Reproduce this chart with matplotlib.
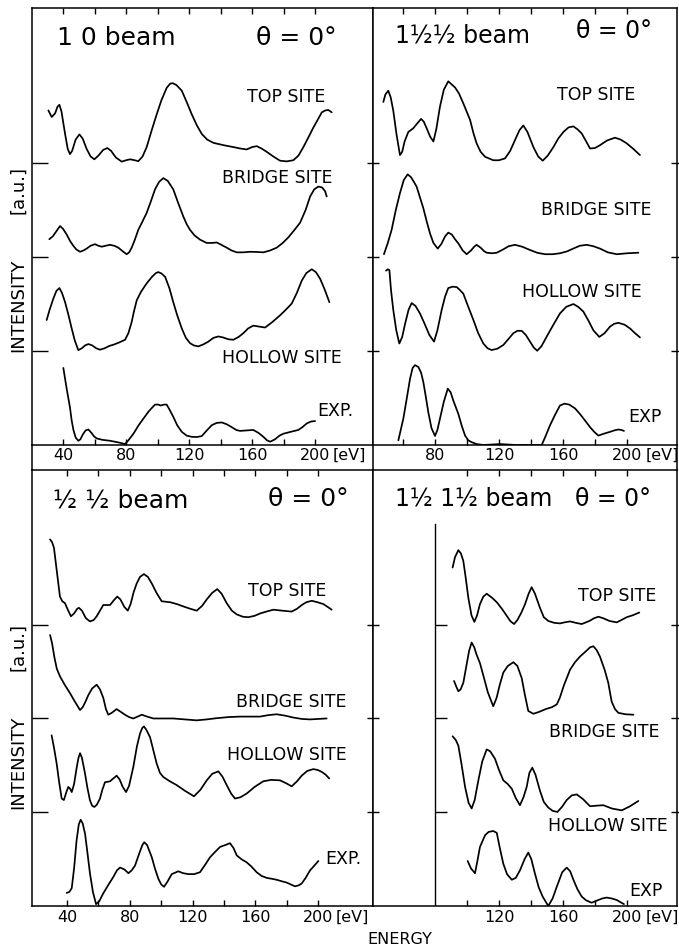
import numpy as np
import matplotlib
matplotlib.use('Agg')
import matplotlib.pyplot as plt
from matplotlib import transforms

# ---- digitised I(V) curves: (energy eV, intensity a.u. above the curve's baseline) ----

# 1 0 beam
tl_top = [(30.7, .56), (32.8, .49), (35.0, .53), (36.5, .60), (37.7, .62), (39.0, .55), (41.3, .31),
          (43.0, .15), (44.4, .095), (45.8, .13), (48.0, .25), (50.4, .305), (52.5, .26), (55.0, .15),
          (57.5, .07), (59.9, .04), (62.5, .08), (65.5, .14), (68.1, .16), (70.5, .13), (73.5, .06),
          (77.3, .015), (80.0, .03), (82.6, .04), (85.5, .03), (87.8, .02), (90.5, .07), (93.1, .17),
          (96.5, .36), (99.5, .52), (102.5, .67), (105.8, .80), (108.0, .845), (109.7, .85),
          (112.0, .83), (115.4, .77), (118.5, .65), (121.7, .52), (125.0, .40), (128.1, .31),
          (131.5, .25), (135.5, .215), (142.0, .19), (148.2, .17), (152.5, .155), (156.6, .145),
          (160.0, .17), (163.0, .18), (166.0, .155), (169.3, .12), (173.5, .07), (177.8, .025),
          (182.0, .018), (186.2, .03), (189.5, .08), (192.6, .17), (196.0, .28), (199.0, .38),
          (202.0, .47), (204.3, .54), (206.5, .56), (208.5, .565), (210.6, .54)]
tl_bridge = [(31.3, .19), (33.5, .22), (36.0, .28), (38.1, .33), (40.0, .30), (42.3, .24), (44.5, .17),
             (46.5, .12), (48.5, .08), (50.8, .056), (53.0, .07), (55.0, .09), (57.5, .12), (60.3, .137),
             (62.5, .12), (64.6, .11), (67.0, .12), (69.8, .13), (72.5, .12), (75.1, .10), (78.0, .06),
             (80.4, .03), (82.0, .05), (83.6, .10), (85.5, .18), (87.8, .29), (90.5, .38), (93.1, .47),
             (95.5, .58), (98.4, .72), (101.0, .80), (103.7, .84), (106.5, .81), (110.0, .72),
             (113.0, .58), (116.4, .43), (118.5, .35), (120.6, .29), (123.5, .23), (127.0, .185),
             (131.2, .15), (134.5, .15), (137.6, .155), (140.5, .13), (143.9, .10), (147.0, .07),
             (150.3, .05), (154.5, .05), (158.7, .056), (163.0, .054), (167.2, .05), (171.5, .07),
             (175.7, .10), (179.5, .15), (183.1, .21), (187.0, .29), (190.5, .365), (194.0, .50),
             (196.9, .645), (199.5, .72), (202.1, .75), (204.5, .74), (206.4, .70), (207.4, .645)]
tl_hollow = [(29.6, .33), (31.5, .44), (33.9, .56), (35.8, .64), (37.7, .67), (39.3, .62), (41.3, .52),
             (43.5, .38), (45.5, .24), (47.5, .11), (49.7, .01), (52.0, .03), (54.0, .06), (56.1, .074),
             (58.5, .06), (61.0, .03), (63.5, .014), (66.5, .03), (69.5, .055), (72.0, .067),
             (75.5, .09), (79.4, .12), (81.5, .19), (83.6, .31), (85.0, .42), (86.8, .54), (89.5, .63),
             (93.1, .72), (96.5, .79), (99.0, .83), (100.5, .84), (102.5, .825), (104.8, .79),
             (107.5, .67), (110.0, .52), (112.5, .38), (115.4, .24), (118.0, .14), (120.6, .084),
             (123.0, .06), (125.9, .049), (129.0, .07), (132.3, .10), (135.5, .14), (138.6, .155),
             (141.5, .145), (145.0, .125), (148.2, .12), (151.5, .15), (154.5, .19), (157.5, .24),
             (160.8, .27), (164.5, .26), (168.3, .25), (173.0, .31), (177.8, .38), (181.5, .44),
             (185.2, .505), (188.5, .62), (191.6, .75), (194.5, .83), (197.9, .87), (200.5, .84),
             (203.2, .77), (206.0, .66), (209.1, .52)]
tl_exp = [(40.2, .82), (42.3, .60), (44.4, .40), (45.5, .26), (46.6, .16), (48.0, .08), (49.7, .045),
          (51.0, .06), (52.5, .11), (54.3, .155), (56.1, .165), (58.0, .13), (59.8, .09), (61.4, .07),
          (65.0, .055), (69.8, .045), (74.5, .03), (79.4, .01), (81.5, .05), (84.7, .12), (88.0, .21),
          (91.0, .28), (94.5, .36), (98.4, .43), (100.5, .43), (102.0, .42), (104.0, .43),
          (105.8, .43), (107.5, .38), (110.0, .30), (112.5, .21), (115.4, .14), (118.5, .10),
          (121.7, .087), (125.0, .085), (128.1, .095), (131.0, .15), (134.4, .21), (137.5, .235),
          (140.8, .24), (144.0, .22), (147.1, .19), (150.0, .16), (152.4, .15), (156.5, .155),
          (160.8, .16), (164.0, .13), (167.2, .087), (169.5, .05), (171.5, .035), (174.5, .06),
          (177.5, .10), (179.9, .12), (184.5, .14), (189.4, .16), (192.0, .19), (194.8, .23),
          (197.5, .25), (200.0, .255)]

# 1 1/2 1/2 beam
tr_top = [(47.7, .65), (49.0, .73), (50.8, .77), (52.3, .70), (53.9, .56), (56.0, .30), (58.1, .085),
          (59.5, .12), (61.0, .23), (63.3, .33), (66.4, .37), (68.8, .42), (71.3, .47), (73.0, .44),
          (74.8, .37), (77.0, .28), (79.0, .23), (80.8, .36), (83.1, .60), (85.5, .78), (88.3, .87),
          (90.2, .84), (92.5, .805), (95.0, .74), (97.7, .635), (101.9, .46), (104.0, .32),
          (106.0, .21), (108.5, .12), (111.3, .067), (116.4, .03), (120.0, .03), (123.8, .05),
          (127.0, .13), (130.0, .245), (132.8, .35), (135.2, .40), (137.8, .33), (141.5, .17),
          (144.5, .07), (147.3, .025), (150.5, .08), (154.0, .17), (157.0, .26), (160.2, .33),
          (163.5, .38), (166.5, .39), (169.0, .36), (171.7, .315), (174.5, .23), (176.9, .155),
          (180.0, .16), (183.1, .19), (187.5, .24), (192.5, .27), (196.0, .25), (199.8, .21),
          (204.0, .15), (208.1, .085)]
tr_bridge = [(48.1, .03), (50.5, .15), (52.9, .29), (55.5, .50), (58.1, .68), (60.5, .82), (62.9, .88),
             (65.0, .85), (66.8, .80), (68.5, .75), (70.5, .64), (72.7, .52), (74.8, .38), (76.9, .25),
             (79.0, .15), (81.7, .09), (84.0, .14), (86.3, .22), (88.3, .26), (90.5, .24), (92.5, .19),
             (94.6, .145), (97.3, .07), (99.8, .03), (102.5, .07), (104.5, .11), (106.0, .13),
             (108.5, .10), (110.5, .065), (112.3, .046), (115.5, .04), (118.6, .046), (122.5, .08),
             (126.0, .115), (130.0, .13), (134.5, .11), (139.4, .075), (144.0, .045), (148.8, .03),
             (153.5, .03), (158.1, .04), (162.5, .06), (166.4, .09), (170.5, .12), (174.8, .13),
             (179.0, .115), (183.1, .09), (188.0, .05), (193.6, .03), (200.0, .04), (207.1, .046)]
tr_hollow = [(49.4, .855), (50.5, .87), (51.5, .86), (52.5, .65), (53.9, .44), (55.8, .22), (57.7, .08),
             (59.5, .15), (61.3, .29), (63.5, .44), (65.4, .51), (67.8, .48), (70.6, .40), (73.5, .29),
             (76.5, .17), (79.4, .10), (81.5, .22), (84.2, .44), (86.3, .58), (88.3, .67), (91.0, .685),
             (93.6, .68), (95.5, .65), (97.7, .61), (100.8, .47), (104.0, .33), (107.0, .19),
             (110.2, .08), (112.8, .03), (115.4, .01), (119.0, .025), (122.7, .064), (126.0, .13),
             (129.0, .19), (131.5, .215), (134.2, .215), (136.8, .17), (139.4, .10), (141.8, .035),
             (143.9, .003), (146.5, .05), (149.7, .15), (154.0, .28), (158.1, .40), (162.0, .47),
             (166.5, .50), (169.5, .47), (172.7, .42), (176.0, .32), (179.0, .22), (182.7, .15),
             (186.0, .19), (189.4, .26), (192.0, .29), (194.6, .30), (198.5, .28), (201.9, .24),
             (205.0, .19), (208.1, .145)]
tr_exp = [(57.1, .05), (60.2, .28), (62.3, .49), (64.4, .705), (66.0, .82), (67.5, .85), (69.6, .83),
          (71.3, .77), (72.7, .67), (74.2, .52), (75.8, .35), (77.8, .18), (80.0, .096), (81.5, .16),
          (83.1, .28), (85.5, .46), (88.0, .60), (89.8, .56), (91.4, .475), (94.6, .33), (96.8, .20),
          (98.8, .10), (100.8, .05), (102.9, .03), (106.0, .01), (110.2, .0), (120.6, .01),
          (131.0, .0), (140.0, .0), (146.7, .0), (149.0, .09), (151.9, .21), (155.0, .32),
          (158.1, .42), (161.0, .44), (163.9, .43), (167.5, .39), (170.6, .33), (173.8, .26),
          (176.9, .19), (179.5, .14), (182.1, .10), (185.5, .12), (189.4, .14), (192.0, .155),
          (194.6, .165), (196.5, .16), (198.1, .15)]

# 1/2 1/2 beam
bl_top = [(29.2, .91), (30.5, .88), (31.7, .82), (33.4, .585), (35.5, .30), (37.0, .25), (38.7, .23),
          (40.5, .16), (42.5, .09), (44.5, .12), (46.5, .17), (47.6, .18), (49.5, .15), (52.0, .07),
          (54.6, .035), (57.0, .05), (58.9, .09), (61.0, .15), (63.1, .21), (65.0, .21), (67.4, .21),
          (69.8, .26), (72.0, .30), (74.0, .27), (76.5, .19), (78.7, .15), (80.5, .22), (82.5, .35),
          (84.4, .44), (86.5, .51), (89.0, .54), (91.5, .51), (94.0, .44), (97.0, .34), (100.3, .25),
          (105.6, .24), (110.0, .22), (114.1, .195), (118.5, .17), (122.6, .15), (126.0, .20),
          (129.0, .27), (132.5, .34), (135.7, .38), (138.5, .33), (141.7, .23), (145.0, .15),
          (148.1, .11), (152.0, .085), (155.5, .08), (159.5, .095), (163.0, .12), (167.0, .14),
          (171.4, .16), (177.0, .15), (183.1, .14), (186.5, .17), (189.5, .21), (192.5, .24),
          (195.9, .255), (199.5, .24), (203.3, .22), (206.0, .19), (208.6, .16)]
bl_bridge = [(29.2, .89), (30.5, .80), (32.0, .65), (33.5, .53), (35.5, .45), (38.5, .36), (41.9, .27),
             (45.0, .18), (48.3, .09), (50.0, .12), (51.8, .18), (53.6, .25), (56.0, .32), (58.9, .36),
             (61.0, .31), (63.1, .22), (64.8, .10), (66.3, .04), (68.5, .06), (71.6, .10), (74.3, .07),
             (76.9, .04), (79.5, .015), (82.2, .0), (85.0, .02), (87.6, .04), (91.0, .02), (95.0, .0),
             (101.0, .0), (107.7, .0), (115.0, -.01), (122.6, -.02), (129.0, -.01), (135.3, .003),
             (143.0, .015), (150.2, .02), (157.0, .02), (162.9, .02), (168.0, .035), (173.5, .045),
             (179.0, .03), (184.1, .01), (189.5, -.005), (194.8, -.01), (200.0, -.005), (205.4, .0)]
bl_hollow = [(30.2, .82), (31.8, .68), (33.4, .52), (35.0, .32), (36.6, .146), (38.0, .13), (39.5, .21),
             (40.8, .27), (42.0, .25), (43.0, .215), (44.5, .30), (46.2, .48), (47.3, .58), (48.3, .63),
             (49.5, .58), (51.5, .41), (53.0, .26), (54.6, .128), (56.0, .07), (57.4, .056), (59.0, .08),
             (61.0, .146), (62.5, .24), (64.2, .32), (66.0, .325), (67.4, .33), (69.5, .36), (71.6, .39),
             (73.5, .35), (75.5, .27), (77.6, .215), (79.5, .28), (82.2, .48), (84.5, .70), (86.5, .84),
             (88.0, .90), (89.0, .915), (90.5, .88), (92.9, .80), (95.0, .66), (97.1, .52), (99.2, .42),
             (101.3, .376), (105.5, .33), (109.8, .29), (115.0, .23), (120.9, .17), (125.0, .24),
             (129.0, .34), (132.5, .41), (136.4, .436), (139.0, .38), (141.7, .29), (144.5, .20),
             (147.0, .146), (150.5, .16), (154.5, .20), (159.5, .27), (165.0, .33), (170.0, .345),
             (175.7, .34), (179.5, .31), (183.1, .276), (186.5, .33), (189.5, .39), (193.0, .44),
             (196.9, .46), (199.8, .45), (202.3, .43), (204.8, .40), (207.0, .36)]
bl_exp = [(39.8, .14), (41.5, .15), (43.0, .19), (44.5, .40), (46.1, .70), (47.5, .87), (48.7, .92),
          (50.0, .88), (51.5, .77), (53.0, .57), (54.6, .35), (56.5, .15), (58.5, .02), (60.5, .05),
          (63.1, .135), (66.5, .23), (69.5, .31), (71.8, .38), (73.8, .41), (76.5, .39), (79.1, .35),
          (81.2, .38), (83.3, .43), (86.0, .56), (88.0, .65), (89.2, .68), (91.0, .65), (94.0, .52),
          (96.0, .40), (98.2, .29), (100.0, .23), (101.8, .205), (104.0, .26), (106.7, .34),
          (110.9, .37), (114.0, .35), (117.3, .34), (121.0, .34), (124.7, .36), (128.0, .44),
          (131.1, .52), (134.5, .58), (137.5, .63), (140.8, .65), (143.8, .67), (146.0, .62),
          (148.1, .54), (151.0, .50), (154.5, .465), (157.5, .42), (160.8, .36), (164.0, .32),
          (167.2, .30), (170.5, .29), (173.5, .28), (176.5, .265), (179.9, .25), (182.5, .23),
          (185.2, .21), (187.5, .22), (189.5, .24), (192.0, .30), (194.8, .38), (197.5, .43),
          (200.1, .48)]

# 1 1/2 1 1/2 beam
br_top = [(91.0, .61), (92.5, .72), (94.6, .795), (96.2, .76), (97.7, .68), (99.2, .50), (100.8, .29),
          (102.8, .10), (104.6, .03), (106.3, .10), (108.1, .22), (110.2, .30), (112.3, .33),
          (115.5, .29), (118.6, .24), (121.8, .17), (124.8, .096), (127.0, .04), (129.4, .007),
          (131.5, .05), (134.0, .13), (136.3, .22), (138.5, .33), (140.4, .40), (142.5, .33),
          (145.6, .18), (148.0, .08), (150.8, .04), (154.5, .02), (158.1, .014), (161.0, .025),
          (164.4, .035), (168.0, .02), (171.7, .007), (176.5, .04), (179.5, .07), (182.1, .085),
          (185.0, .07), (189.0, .04), (193.6, .025), (196.5, .05), (199.8, .08), (203.5, .10),
          (207.7, .13)]
br_bridge = [(91.9, .40), (93.3, .34), (94.6, .29), (96.0, .31), (97.7, .38), (99.5, .55), (101.3, .72),
             (102.9, .81), (104.5, .76), (106.0, .68), (108.1, .59), (110.5, .44), (113.0, .28),
             (116.4, .13), (118.5, .22), (120.5, .36), (122.7, .49), (125.5, .56), (129.0, .60),
             (131.5, .56), (134.2, .43), (136.2, .25), (138.3, .08), (141.5, .05), (145.0, .07),
             (149.2, .10), (153.0, .12), (156.1, .15), (158.0, .22), (160.5, .35), (164.4, .52),
             (167.5, .60), (170.6, .66), (174.5, .72), (177.0, .76), (179.0, .77), (181.0, .73),
             (183.1, .66), (186.0, .52), (188.3, .38), (190.4, .18), (192.5, .10), (194.6, .06),
             (199.0, .045), (204.0, .04)]
br_hollow = [(91.0, .81), (93.0, .77), (94.6, .71), (96.5, .52), (98.8, .27), (101.0, .10), (102.9, .04),
             (104.8, .13), (107.1, .34), (109.5, .54), (112.3, .67), (114.5, .65), (117.5, .57),
             (120.0, .45), (122.7, .34), (125.5, .30), (128.0, .25), (130.5, .15), (133.1, .075),
             (135.3, .16), (137.3, .27), (139.0, .42), (140.8, .475), (142.8, .40), (145.6, .23),
             (148.0, .11), (150.8, .05), (153.5, .015), (156.5, .003), (159.5, .06), (162.3, .13),
             (165.5, .18), (168.6, .19), (172.5, .14), (176.9, .064), (181.0, .07), (185.2, .075),
             (190.5, .04), (196.7, .02), (201.5, .06), (207.1, .12)]
br_exp = [(100.4, .48), (102.5, .40), (105.0, .35), (106.5, .48), (108.1, .63), (111.3, .755),
          (113.5, .79), (116.4, .80), (118.6, .78), (120.5, .62), (122.7, .45), (125.0, .34),
          (128.0, .28), (130.5, .30), (133.1, .38), (136.0, .50), (138.3, .57), (140.2, .50),
          (142.4, .35), (144.8, .20), (147.3, .10), (150.8, .0), (153.5, .08), (156.1, .205),
          (159.5, .36), (162.3, .41), (164.5, .37), (166.5, .28), (169.0, .18), (171.7, .10),
          (174.5, .06), (177.9, .035), (180.0, .05), (182.1, .064), (184.5, .08), (187.3, .09),
          (190.5, .08), (193.6, .064), (196.0, .04), (198.1, .02)]

offsets = [3, 2, 1, 0]          # baselines: top, bridge, hollow, exp
site_names = ['TOP SITE', 'BRIDGE SITE', 'HOLLOW SITE']

# label anchors (energy, intensity): title, theta (baseline), top, bridge, hollow, exp (centre)
tl_labels = [(36, 4.255), (188, 4.255), (182, 3.70), (176, 2.84), (179, 0.93), (213, 0.36)]
tr_labels = [(55, 4.28), (192, 4.33), (181, 3.72), (181, 2.50), (172, 1.63), (211, 0.30)]
bl_labels = [(31, 4.25), (194, 4.27), (180, 3.36), (183, 2.18), (180, 1.61), (216, 0.50)]
br_labels = [(55, 4.27), (191, 4.27), (194, 3.31), (186, 1.86), (188, 0.85), (212, 0.16)]

W, H = 679, 951
X0, XM, X1 = 32, 373, 677
Y0, YA, YB, Y1 = 8, 445, 470, 906
YTOP = 4.65
LW = 1.25


def fx(px):
    return px / W


def fy(py):
    return 1 - py / H


plt.rcParams['font.family'] = ['DejaVu Sans']
fig = plt.figure(figsize=(W / 100, H / 100), dpi=100)
fig.patch.set_facecolor('white')


def panel(rect, xlim, curves, labels, title, tsize, exp_text, major, minor, left_len,
          outer_left, pad):
    ax = fig.add_axes(rect)
    ax.set_xlim(*xlim)
    ax.set_ylim(0, YTOP)
    for pts, off in zip(curves, offsets):
        e, i = zip(*pts)
        ax.plot(e, np.asarray(i) + off, color='k', lw=LW, solid_joinstyle='round',
                solid_capstyle='round')
    for sp in ax.spines.values():
        sp.set_linewidth(1.1)
    ax.set_xticks(major)
    ax.set_xticks(minor, minor=True)
    ax.set_xticklabels([str(m) for m in major])
    ax.tick_params(axis='x', which='both', direction='in', top=True, length=4.5,
                   width=1.0, labelsize=11.5, pad=pad)
    ax.set_yticks(offsets[:3])
    ax.set_yticklabels([])
    if outer_left:
        ax.tick_params(axis='y', direction='in', left=True, right=False, length=left_len, width=1.0)
    else:
        ax.tick_params(axis='y', direction='inout', left=True, right=True, length=left_len,
                       width=1.0)
    ax.text(*labels[0], title, fontsize=tsize, ha='left', va='baseline')
    ax.text(*labels[1], 'θ = 0°', fontsize=tsize, ha='center', va='baseline')
    for (x, y), s in zip(labels[2:5], site_names):
        ax.text(x, y, s, fontsize=12.5, ha='center', va='center')
    ax.text(*labels[5], exp_text, fontsize=12.5, ha='center', va='center')
    tr = transforms.offset_copy(ax.get_xaxis_transform(), fig=fig, y=-pad, units='points')
    ax.text(222, 0, '[eV]', fontsize=11.5, ha='center', va='top', transform=tr)
    return ax


tl = panel([fx(X0), fy(YA), (XM - X0) / W, (YA - Y0) / H], (20.3, 236.8),
           [tl_top, tl_bridge, tl_hollow, tl_exp],
           tl_labels, '1 0 beam', 18, 'EXP.', [40, 80, 120, 160, 200], [60, 100, 140, 180],
           11.5, True, 2)
tr_ax = panel([fx(XM), fy(YA), (X1 - XM) / W, (YA - Y0) / H], (41.25, 231.25),
              [tr_top, tr_bridge, tr_hollow, tr_exp],
              tr_labels, '1½½ beam', 17, 'EXP', [80, 120, 160, 200], [60, 100, 140, 180],
              8, False, 2)
bl = panel([fx(X0), fy(Y1), (XM - X0) / W, (Y1 - YB) / H], (17.7, 234.9),
           [bl_top, bl_bridge, bl_hollow, bl_exp],
           bl_labels, '½ ½ beam', 18, 'EXP.', [40, 80, 120, 160, 200], [60, 100, 140, 180],
           11.5, True, 3)
br = panel([fx(XM), fy(Y1), (X1 - XM) / W, (Y1 - YB) / H], (41.25, 231.25),
           [br_top, br_bridge, br_hollow, br_exp],
           br_labels, '1½ 1½ beam', 17, 'EXP', [120, 160, 200], [100, 140, 180],
           8, False, 3)

# inner energy axis of the 1 1/2 1 1/2 panel starting at 80 eV
br.axvline(80, ymin=0, ymax=4.07 / YTOP, color='k', lw=1.0)
br.hlines(offsets[:3], 80, 87.5, color='k', lw=1.0)

# strip holding the upper tick labels, framed left/right
strip = fig.add_axes([fx(X0), fy(YB), (X1 - X0) / W, (YB - YA) / H])
strip.set_xticks([])
strip.set_yticks([])
strip.patch.set_alpha(0)
strip.spines['top'].set_visible(False)
strip.spines['bottom'].set_visible(False)
for s in ('left', 'right'):
    strip.spines[s].set_linewidth(1.1)
strip.axvline((XM - X0) / (X1 - X0), color='k', lw=1.1)

fig.text(fx(18.5), fy(305), 'INTENSITY', rotation=90, ha='center', va='center', fontsize=13)
fig.text(fx(18.5), fy(190), '[a.u.]', rotation=90, ha='center', va='center', fontsize=13)
fig.text(fx(18.5), fy(762), 'INTENSITY', rotation=90, ha='center', va='center', fontsize=13)
fig.text(fx(18.5), fy(647), '[a.u.]', rotation=90, ha='center', va='center', fontsize=13)
fig.text(fx(400), fy(940), 'ENERGY', ha='center', va='center', fontsize=11.5)

fig.savefig('out.png', dpi=100)
